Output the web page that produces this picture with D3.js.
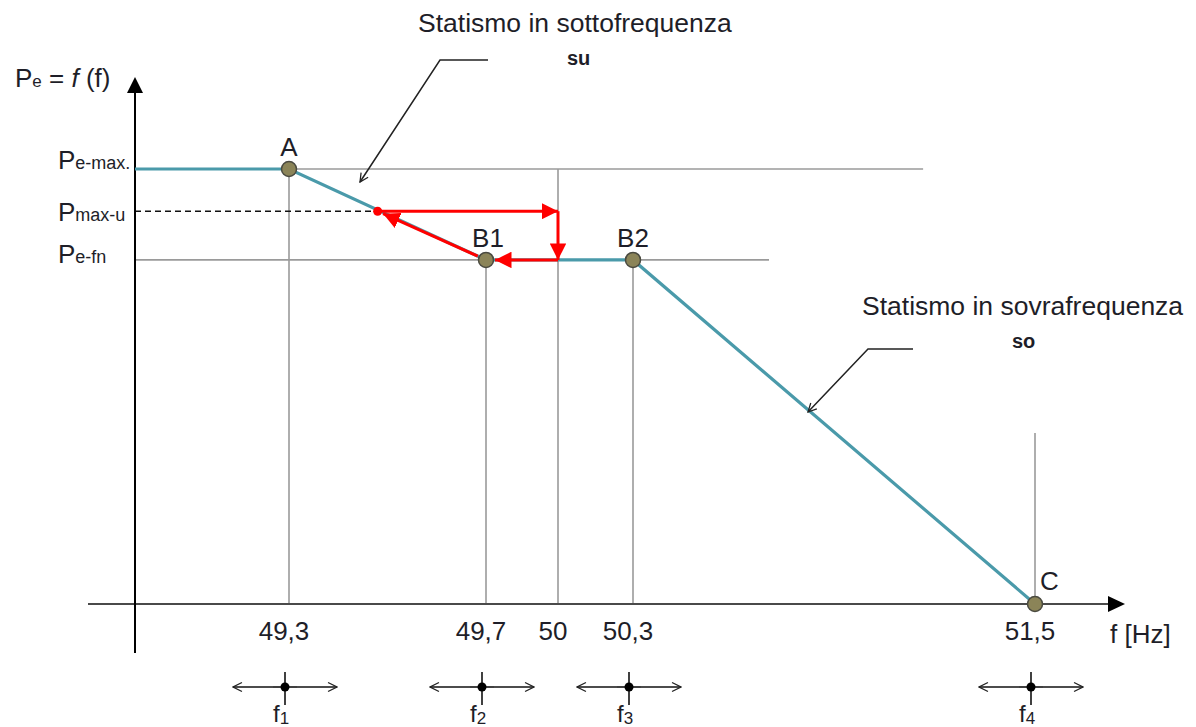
<!DOCTYPE html>
<html>
<head>
<meta charset="utf-8">
<script src="https://cdn.jsdelivr.net/npm/d3@7"></script>
<style>
  body { margin: 0; background: #fff; }
  text { font-family: "Liberation Sans", Arial, sans-serif; fill: #1e1e28; }
</style>
</head>
<body>
<div id="chart"></div>
<script>
// frequency ticks (Hz) and their labels
var tickFreq = [49.3, 49.7, 50, 50.3, 51.5];
var tickLabels = ["49,3", "49,7", "50", "50,3", "51,5"];

// curve Pe = f(f), power as fraction of Pe-max
var curveFreq = [49.0, 49.3, 49.7, 50.3, 51.5];
var curvePower = [1, 1, 0.791, 0.791, 0];

// named points on the curve
var pointNames = ["A", "B1", "B2", "C"];
var pointFreq = [49.3, 49.7, 50.3, 51.5];
var pointPower = [1, 0.791, 0.791, 0];

// power levels on the y axis
var levelMain = ["P", "P", "P"];
var levelSub = ["e-max.", "max-u", "e-fn"];
var levelPower = [1, 0.903, 0.791];

// red path B1 -> Pmax-u -> 50 Hz -> B1
var redFreq = [49.48, 50, 50, 49.7, 49.48];
var redPower = [0.903, 0.903, 0.791, 0.791, 0.903];

// reference lines
var vLineFreq = [49.3, 49.7, 50, 50.3, 51.5];
var vLineTop = [1, 0.791, 1, 0.791, 0.393];
var hLinePower = [1, 0.791];
var hLineEnd = [51.166, 50.706];

// tolerance bands under the axis
var bandFreq = [49.3, 49.7, 50.3, 51.5];
var bandSub = ["1", "2", "3", "4"];

var width = 1196, height = 727;

var svg = d3.select("#chart").append("svg").attr("width", width).attr("height", height);

// schematic (piecewise) frequency scale
var xScale = d3.scaleLinear()
    .domain([49.0, 49.3, 49.7, 50, 50.3, 51.5])
    .range([135, 289, 486, 558, 633, 1035]);
var yScale = d3.scaleLinear().domain([0, 1]).range([604, 169]);

var defs = svg.append("defs");
defs.append("marker").attr("id", "redhead")
    .attr("viewBox", "0 0 10 10").attr("refX", 10).attr("refY", 5)
    .attr("markerWidth", 5.5).attr("markerHeight", 5.5).attr("markerUnits", "strokeWidth")
    .attr("orient", "auto")
    .append("path").attr("d", "M0,0 L10,5 L0,10 Z").attr("fill", "#ff0000");
defs.append("marker").attr("id", "openhead")
    .attr("viewBox", "0 0 10 10").attr("refX", 9).attr("refY", 5)
    .attr("markerWidth", 7).attr("markerHeight", 7).attr("markerUnits", "strokeWidth")
    .attr("orient", "auto")
    .append("path").attr("d", "M1,1 L9,5 L1,9").attr("fill", "none")
    .attr("stroke", "#222").attr("stroke-width", 1.2);

var x0 = xScale(49.0), y0 = yScale(0);

// grid lines
svg.selectAll(".vline").data(vLineFreq).enter().append("line")
    .attr("class", "vline")
    .attr("x1", function(d){ return xScale(d); })
    .attr("x2", function(d){ return xScale(d); })
    .attr("y1", function(d, i){ return yScale(vLineTop[i]); })
    .attr("y2", y0)
    .attr("stroke", "#9a9a9a").attr("stroke-width", 1.6);

svg.selectAll(".hline").data(hLinePower).enter().append("line")
    .attr("class", "hline")
    .attr("x1", x0)
    .attr("x2", function(d, i){ return xScale(hLineEnd[i]); })
    .attr("y1", function(d){ return yScale(d); })
    .attr("y2", function(d){ return yScale(d); })
    .attr("stroke", "#9a9a9a").attr("stroke-width", 1.6);

// dashed Pmax-u line
svg.append("line")
    .attr("x1", x0).attr("x2", xScale(redFreq[0]))
    .attr("y1", yScale(levelPower[1])).attr("y2", yScale(levelPower[1]))
    .attr("stroke", "#111").attr("stroke-width", 1.5).attr("stroke-dasharray", "6,4");

// axes
svg.append("line").attr("x1", x0 - 47).attr("x2", 1110).attr("y1", y0).attr("y2", y0)
    .attr("stroke", "#4a4a4a").attr("stroke-width", 2.2);
svg.append("path").attr("d", "M1108," + (y0 - 8) + " L1125," + y0 + " L1108," + (y0 + 8) + " Z")
    .attr("fill", "#000");
svg.append("line").attr("x1", x0).attr("x2", x0).attr("y1", 653).attr("y2", 90)
    .attr("stroke", "#000").attr("stroke-width", 2);
svg.append("path").attr("d", "M" + (x0 - 8) + ",93 L" + x0 + ",77 L" + (x0 + 8) + ",93 Z")
    .attr("fill", "#000");

// curve
var line = d3.line()
    .x(function(d){ return xScale(d[0]); })
    .y(function(d){ return yScale(d[1]); });
svg.append("path")
    .datum(d3.zip(curveFreq, curvePower))
    .attr("d", line)
    .attr("fill", "none").attr("stroke", "#4a9aaa").attr("stroke-width", 3.2);

// red arrows
var redPts = d3.zip(redFreq, redPower);
var shorten = [0, 0, 9, 6];
for (var i = 0; i < redPts.length - 1; i++) {
    var a = redPts[i], b = redPts[i + 1];
    var ax = xScale(a[0]), ay = yScale(a[1]), bx = xScale(b[0]), by = yScale(b[1]);
    var len = Math.sqrt((bx - ax) * (bx - ax) + (by - ay) * (by - ay));
    var sx = i == 3 ? ax + (bx - ax) * 9 / len : ax;
    var sy = i == 3 ? ay + (by - ay) * 9 / len : ay;
    var ex = bx - (bx - ax) * shorten[i] / len, ey = by - (by - ay) * shorten[i] / len;
    svg.append("line")
        .attr("x1", sx).attr("y1", sy).attr("x2", ex).attr("y2", ey)
        .attr("stroke", "#ff0000").attr("stroke-width", 3)
        .attr("marker-end", "url(#redhead)");
}
svg.append("circle").attr("cx", xScale(redFreq[0])).attr("cy", yScale(redPower[0]))
    .attr("r", 4.5).attr("fill", "#ff0000");

// points
svg.selectAll(".pt").data(pointFreq).enter().append("circle")
    .attr("class", "pt")
    .attr("cx", function(d){ return xScale(d); })
    .attr("cy", function(d, i){ return yScale(pointPower[i]); })
    .attr("r", 7.5)
    .attr("fill", "#8b8458").attr("stroke", "#4a4a40").attr("stroke-width", 1.5);

var labelDx = [0, 2, 0, 5], labelAnchor = ["middle", "middle", "middle", "start"];
svg.selectAll(".ptlabel").data(pointNames).enter().append("text")
    .attr("class", "ptlabel")
    .attr("x", function(d, i){ return xScale(pointFreq[i]) + labelDx[i]; })
    .attr("y", function(d, i){ return yScale(pointPower[i]) - (i == 3 ? 14 : 13); })
    .attr("text-anchor", function(d, i){ return labelAnchor[i]; })
    .attr("font-size", 26)
    .text(function(d){ return d; });

// y level labels
var lv = svg.selectAll(".lvl").data(levelMain).enter().append("text")
    .attr("class", "lvl")
    .attr("x", 58)
    .attr("y", function(d, i){ return yScale(levelPower[i]) + [0, 10, 3][i]; })
    .attr("font-size", 26);
lv.append("tspan").text(function(d){ return d; });
lv.append("tspan").attr("font-size", 18).text(function(d, i){ return levelSub[i]; });

// y axis title
var yt = svg.append("text").attr("x", 15).attr("y", 87).attr("font-size", 26);
yt.append("tspan").text("P");
yt.append("tspan").attr("font-size", 17).text("e");
yt.append("tspan").text(" = ");
yt.append("tspan").attr("font-style", "italic").text("f");
yt.append("tspan").text(" (f)");

// tick labels
svg.selectAll(".tick").data(tickFreq).enter().append("text")
    .attr("class", "tick")
    .attr("x", function(d){ return xScale(d) - 5; })
    .attr("y", 640)
    .attr("text-anchor", "middle")
    .attr("font-size", 26)
    .text(function(d, i){ return tickLabels[i]; });

svg.append("text").attr("x", 1110).attr("y", 643).attr("font-size", 26).text("f [Hz]");

// tolerance bands
var band = svg.selectAll(".band").data(bandFreq).enter().append("g")
    .attr("class", "band")
    .attr("transform", function(d){ return "translate(" + (xScale(d) - 4) + ",687)"; });
band.append("line").attr("x1", -12).attr("x2", -52).attr("y1", 0).attr("y2", 0)
    .attr("stroke", "#111").attr("stroke-width", 1.6).attr("marker-end", "url(#openhead)");
band.append("line").attr("x1", 12).attr("x2", 52).attr("y1", 0).attr("y2", 0)
    .attr("stroke", "#111").attr("stroke-width", 1.6).attr("marker-end", "url(#openhead)");
band.append("line").attr("x1", -12).attr("x2", 12).attr("y1", 0).attr("y2", 0)
    .attr("stroke", "#111").attr("stroke-width", 1.6);
band.append("line").attr("x1", 0).attr("x2", 0).attr("y1", -15).attr("y2", 18)
    .attr("stroke", "#111").attr("stroke-width", 1.6);
band.append("circle").attr("r", 4.5).attr("fill", "#000");
var bl = band.append("text").attr("x", -12).attr("y", 35).attr("font-size", 24);
bl.append("tspan").text("f");
bl.append("tspan").attr("font-size", 17).attr("dy", 2).text(function(d, i){ return bandSub[i]; });

// annotations
svg.append("text").attr("x", 418).attr("y", 32).attr("font-size", 26.5).text("Statismo in sottofrequenza");
svg.append("text").attr("x", 567).attr("y", 65).attr("font-size", 20).attr("font-weight", "bold").text("su");
svg.append("polyline").attr("points", "488,60 440,60 360,182")
    .attr("fill", "none").attr("stroke", "#222").attr("stroke-width", 1.5)
    .attr("marker-end", "url(#openhead)");

svg.append("text").attr("x", 862).attr("y", 315).attr("font-size", 26.5).text("Statismo in sovrafrequenza");
svg.append("text").attr("x", 1012).attr("y", 348).attr("font-size", 20).attr("font-weight", "bold").text("so");
svg.append("polyline").attr("points", "913,349 868,349 808,412")
    .attr("fill", "none").attr("stroke", "#222").attr("stroke-width", 1.5)
    .attr("marker-end", "url(#openhead)");
</script>
</body>
</html>
